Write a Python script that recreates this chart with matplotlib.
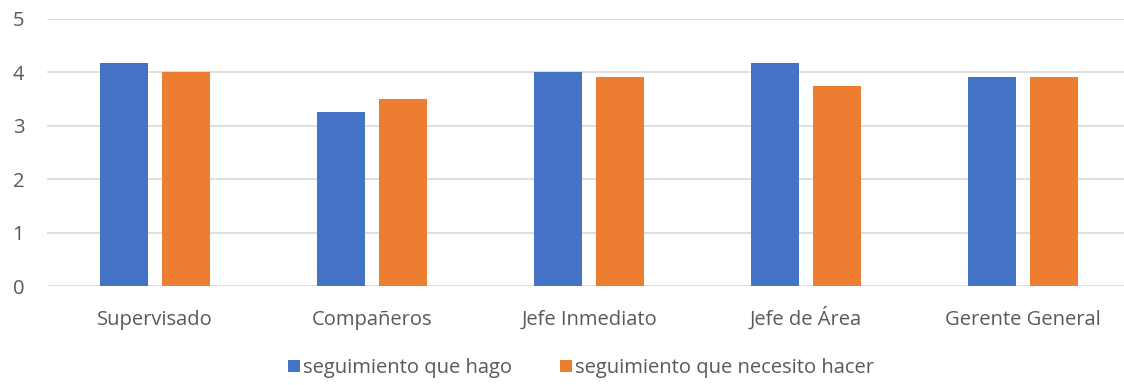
import numpy as np
import matplotlib.pyplot as plt

categories = ['Supervisado', 'Compañeros', 'Jefe Inmediato', 'Jefe de Área', 'Gerente General']
hago = [4.17, 3.25, 4.0, 4.17, 3.92]
necesito = [4.0, 3.5, 3.92, 3.75, 3.92]
series_names = ['seguimiento que hago', 'seguimiento que necesito hacer']

plt.rcParams['font.family'] = ['Open Sans', 'DejaVu Sans']

fig = plt.figure(figsize=(11.24, 3.85), dpi=100)
ax = fig.add_axes([46.5/1124, 99/385, 1085/1124, 267/385])

x = np.arange(len(categories))
w = 0.222
off = 0.141
b1 = ax.bar(x - off, hago, w, color='#4472C4', label=series_names[0], zorder=3)
b2 = ax.bar(x + off, necesito, w, color='#ED7D31', label=series_names[1], zorder=3)

ax.set_xlim(-0.5, len(categories) - 0.5)
ax.set_ylim(0, 5)
ax.set_yticks(range(6))
ax.yaxis.grid(True, color='#d9d9d9', linewidth=1.2, zorder=0)
for s in ax.spines.values():
    s.set_visible(False)
ax.tick_params(length=0, labelsize=14.5, labelcolor='#595959')
ax.tick_params(axis='x', pad=28)
ax.tick_params(axis='y', pad=16)
ax.set_xticks(x)
ax.set_xticklabels(categories, va='baseline')

fig.legend(handles=[b1, b2], loc='center', bbox_to_anchor=(581/1124, 1 - 368/385),
           ncol=2, frameon=False, fontsize=14.5, labelcolor='#595959',
           handlelength=0.6, handleheight=0.6, handletextpad=0.15, columnspacing=2.4)

plt.savefig('out.png', dpi=100)
